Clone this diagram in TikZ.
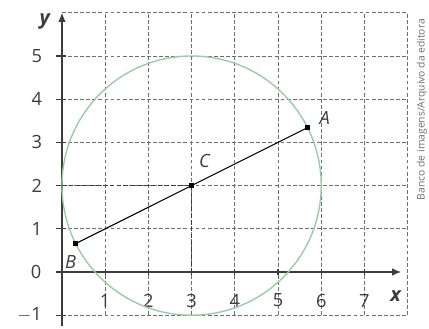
\documentclass[tikz,border=0pt]{standalone}
\usepackage{fontspec}
\setmainfont{Open Sans}
\usepackage{tikz}
\usetikzlibrary{arrows.meta,positioning,calc}
\usepackage{xcolor}
\definecolor{circgreen}{RGB}{150,205,160}
\definecolor{gridgray}{RGB}{110,110,110}
\definecolor{inkgray}{RGB}{60,60,60}

\begin{document}
\begin{tikzpicture}[x=1cm,y=1cm,
gridline/.style={gridgray,dashed,dash pattern=on 2.5pt off 1.5pt,line width=0.5pt},
axisline/.style={inkgray,line width=0.8pt},
ticklabel/.style={inkgray,font=\fontsize{12}{14}\selectfont,inner sep=1pt},
pointlabel/.style={inkgray,font=\fontsize{12}{14}\selectfont\itshape,inner sep=1pt},
dotpt/.style={fill=black,minimum size=3.2pt,inner sep=0pt,rectangle}]
\useasboundingbox (-1.435,-1.319) rectangle (8.495,6.296);
% grid
\foreach \gx in {1,...,8}
  \draw[gridline] (\gx,-1) -- (\gx,6);
\foreach \gy in {-1,1,2,...,6}
  \draw[gridline] (0,\gy) -- (8,\gy);
% axes
\draw[axisline,-{Latex[length=6pt,width=5pt]}] (-0.15,0) -- (7.85,0);
\draw[axisline,-{Latex[length=6pt,width=5pt]}] (0,-1.25) -- (0,6);
\foreach \gy in {-1,1,2,...,5}
  \draw[axisline] (-0.14,\gy) -- (0.1,\gy);
\foreach \gx in {1,...,7}
  \draw[axisline] (\gx,-0.08) -- (\gx,0.08);
% labels
\foreach \gx in {1,...,7}
  \node[ticklabel] at (\gx,-0.66) {\gx};
\foreach \gy in {1,...,5}
  \node[ticklabel] at (-0.58,\gy) {\gy};
\node[ticklabel] at (-0.6,0) {0};
\node[ticklabel] at (-0.75,-1) {$-$1};
\node[pointlabel,font=\fontsize{13}{15}\selectfont\bfseries\itshape] (xlab) at (7.72,-0.56) {x};
\node[pointlabel,font=\fontsize{13}{15}\selectfont\bfseries\itshape] (ylab) at (-0.4,5.8) {y};
% circle and points
\coordinate (C) at (3,2);
\coordinate (A) at ($(C)+(26.57:3)$);
\coordinate (B) at ($(C)+(206.57:3)$);
\draw[circgreen,line width=0.9pt] (C) circle (3);
\draw[inkgray,dashed,dash pattern=on 3pt off 1.5pt,line width=0.6pt] (0,2) -- (C) -- (3,0);
\draw[black,line width=0.7pt] (B) -- (A);
\node[dotpt] at (A) {};
\node[dotpt] at (B) {};
\node[dotpt] at (C) {};
\node[pointlabel] (Alab) at (6.08,3.56) {A};
\node[pointlabel] (Blab) at (0.2,0.24) {B};
\node[pointlabel] (Clab) at (3.3,2.56) {C};
% credit
\node[gridgray,rotate=90,font=\fontsize{6.8}{7}\selectfont] (credit) at (8.33,3.76) {Banco de imagens/Arquivo da editora};
\end{tikzpicture}
\end{document}
